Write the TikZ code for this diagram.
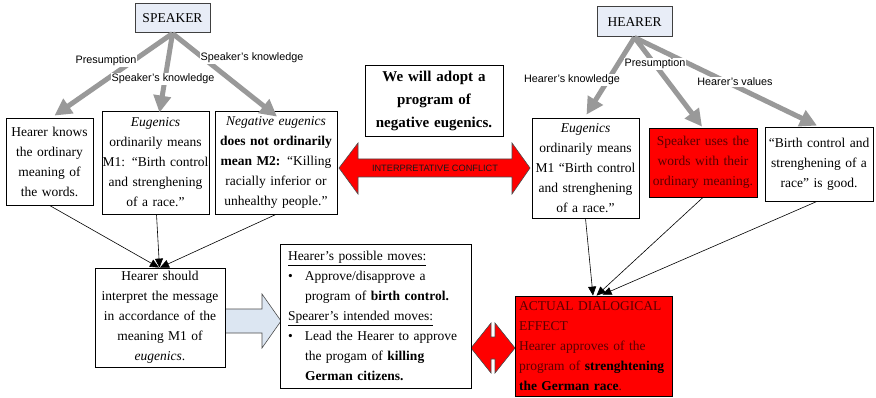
\documentclass[tikz,border=0pt]{standalone}
\usepackage{fontspec}
\setmainfont{Liberation Serif}
\setsansfont{Liberation Sans}
\usetikzlibrary{arrows.meta}
\definecolor{boxblue}{HTML}{E8EDF7}
\definecolor{arrgray}{HTML}{999999}
\definecolor{txtred}{HTML}{5A0000}
\definecolor{pale}{HTML}{DCE6F2}
\begin{document}
\begin{tikzpicture}[x=1pt,y=-1pt,
  box/.style={draw=black, line width=0.8pt, fill=white, inner sep=0pt, align=center,
    font=\fontsize{13.5pt}{20pt}\selectfont},
  redbox/.style={box, fill=red, text=txtred},
  hdr/.style={box, draw=black!75, line width=1pt, fill=boxblue},
  garr/.style={draw=arrgray, line width=5pt, -{Triangle[length=17pt,width=17pt]}},
  tarr/.style={draw=black, line width=0.6pt, -{Triangle[length=9pt,width=8pt]}},
  lab/.style={font=\sffamily\fontsize{10.8pt}{12pt}\selectfont, fill=white, inner sep=1pt},
  blockarr/.style={draw=black!70, line width=0.6pt}
]
\useasboundingbox (0,0) rectangle (876,398);
\fill[white] (0,0) rectangle (876,398);

% block arrows (shapes)
\filldraw[blockarr, fill=red] (339,168) -- (358,143) -- (358,159) -- (512,159) -- (512,143)
  -- (530,168) -- (512,194) -- (512,177) -- (358,177) -- (358,194) -- cycle;
\node[font=\sffamily\fontsize{9.2pt}{10pt}\selectfont, text=black!90, inner sep=0pt] (conflict) at (435,168) {INTERPRETATIVE CONFLICT};
\filldraw[blockarr, fill=pale] (225,309) -- (262,309) -- (262,294) -- (281,321) -- (262,348)
  -- (262,333) -- (225,333) -- cycle;
\filldraw[blockarr, fill=red] (471,348) -- (491,323) -- (491,337) -- (495,337) -- (495,323)
  -- (515,348) -- (495,373) -- (495,359) -- (491,359) -- (491,373) -- cycle;

% header nodes
\node[hdr, minimum width=75pt, minimum height=29pt] (spk) at (172.5,18.5) {SPEAKER};
\node[hdr, minimum width=75pt, minimum height=30pt] (hea) at (634.5,22) {HEARER};

% boxes
\node[box, text width=87pt, minimum height=87pt] (b1) at (49.5,161.5)
  {Hearer knows\\the ordinary\\meaning of\\the words.};
\node[box, text width=107pt, minimum height=103pt] (b2) at (155.5,162.5)
  {\textit{Eugenics}\\ordinarily means\\M1: “Birth control\\and strenghening\\of a race.”};
\node[box, text width=122pt, minimum height=103pt] (b3) at (276,162.5)
  {\textit{Negative eugenics}\\\textbf{does not ordinarily}\\\textbf{mean M2:} “Killing\\racially inferior or\\unhealthy people.”};
\node[box, text width=138pt, minimum height=71pt, font=\bfseries\fontsize{15pt}{23pt}\selectfont] (adopt) at (434,100.5)
  {We will adopt a\\program of\\negative eugenics.};
\node[box, text width=107pt, minimum height=100pt] (eugr) at (585.5,168)
  {\textit{Eugenics}\\ordinarily means\\M1 “Birth control\\and strenghening\\of a race.”};
\node[redbox, text width=108pt, minimum height=69pt] (red) at (703,162.5)
  {Speaker uses the\\words with their\\ordinary meaning.};
\node[box, text width=108pt, minimum height=74pt] (birth) at (819,164)
  {“Birth control and\\strenghening of a\\race” is good.};
\node[box, text width=130pt, minimum height=99pt] (hs) at (160,317.5)
  {Hearer should\\interpret the message\\in accordance of the\\meaning M1 of\\\textit{eugenics}.};
\node[box, align=left, inner xsep=8pt, text width=175pt, minimum height=144pt] (moves) at (375.5,316)
  {\underline{Hearer’s possible moves:}\\
   \makebox[17pt][l]{\textbullet}Approve/disapprove a\\
   \hspace*{17pt}program of \textbf{birth control.}\\
   \underline{Spearer’s intended moves:}\\
   \makebox[17pt][l]{\textbullet}Lead the Hearer to approve\\
   \hspace*{17pt}the progam of \textbf{killing}\\
   \hspace*{17pt}\textbf{German citizens.}};
\node[redbox, align=left, inner xsep=4pt, text width=149pt, minimum height=100pt] (actual) at (593.5,346)
  {ACTUAL DIALOGICAL\\EFFECT\\Hearer approves of the\\program of \textcolor{black}{\textbf{strenghtening}}\\\textcolor{black}{\textbf{the German race}}.};

% gray arrows
\draw[garr] (spk.south) -- ([xshift=5pt,yshift=2pt]b1.north);
\draw[garr] (spk.south) -- ([xshift=4pt,yshift=-2pt]b2.north);
\draw[garr] (spk.south) -- ([xshift=1pt,yshift=-6pt]b3.north);
\draw[garr] (hea.south) -- ([xshift=1pt,yshift=3pt]eugr.north);
\draw[garr] (hea.south) -- ([xshift=-1pt,yshift=1pt]red.north);
\draw[garr] (hea.south) -- ([xshift=-2pt,yshift=1pt]birth.north);

% labels
\node[lab] (l1) at (106,61) {Presumption};
\node[lab] (l2) at (163,79) {Speaker’s knowledge};
\node[lab] (l3) at (252,58) {Speaker’s knowledge};
\node[lab] (l4) at (572,80) {Hearer’s knowledge};
\node[lab] (l5) at (655,64) {Presumption};
\node[lab] (l6) at (735,82) {Hearer’s values};

% thin arrows
\draw[tarr] (b1.south) -- ([xshift=-1pt]hs.north);
\draw[tarr] ([xshift=1pt]b2.south) -- ([xshift=-0.5pt]hs.north);
\draw[tarr] (b3.south) -- ([xshift=0pt]hs.north);
\draw[tarr] (eugr.south) -- ([xshift=-0.5pt]actual.north);
\draw[tarr] (red.south) -- ([xshift=3pt]actual.north);
\draw[tarr] ([xshift=-2pt]birth.south) -- ([xshift=9pt,yshift=1pt]actual.north);
\end{tikzpicture}
\end{document}
